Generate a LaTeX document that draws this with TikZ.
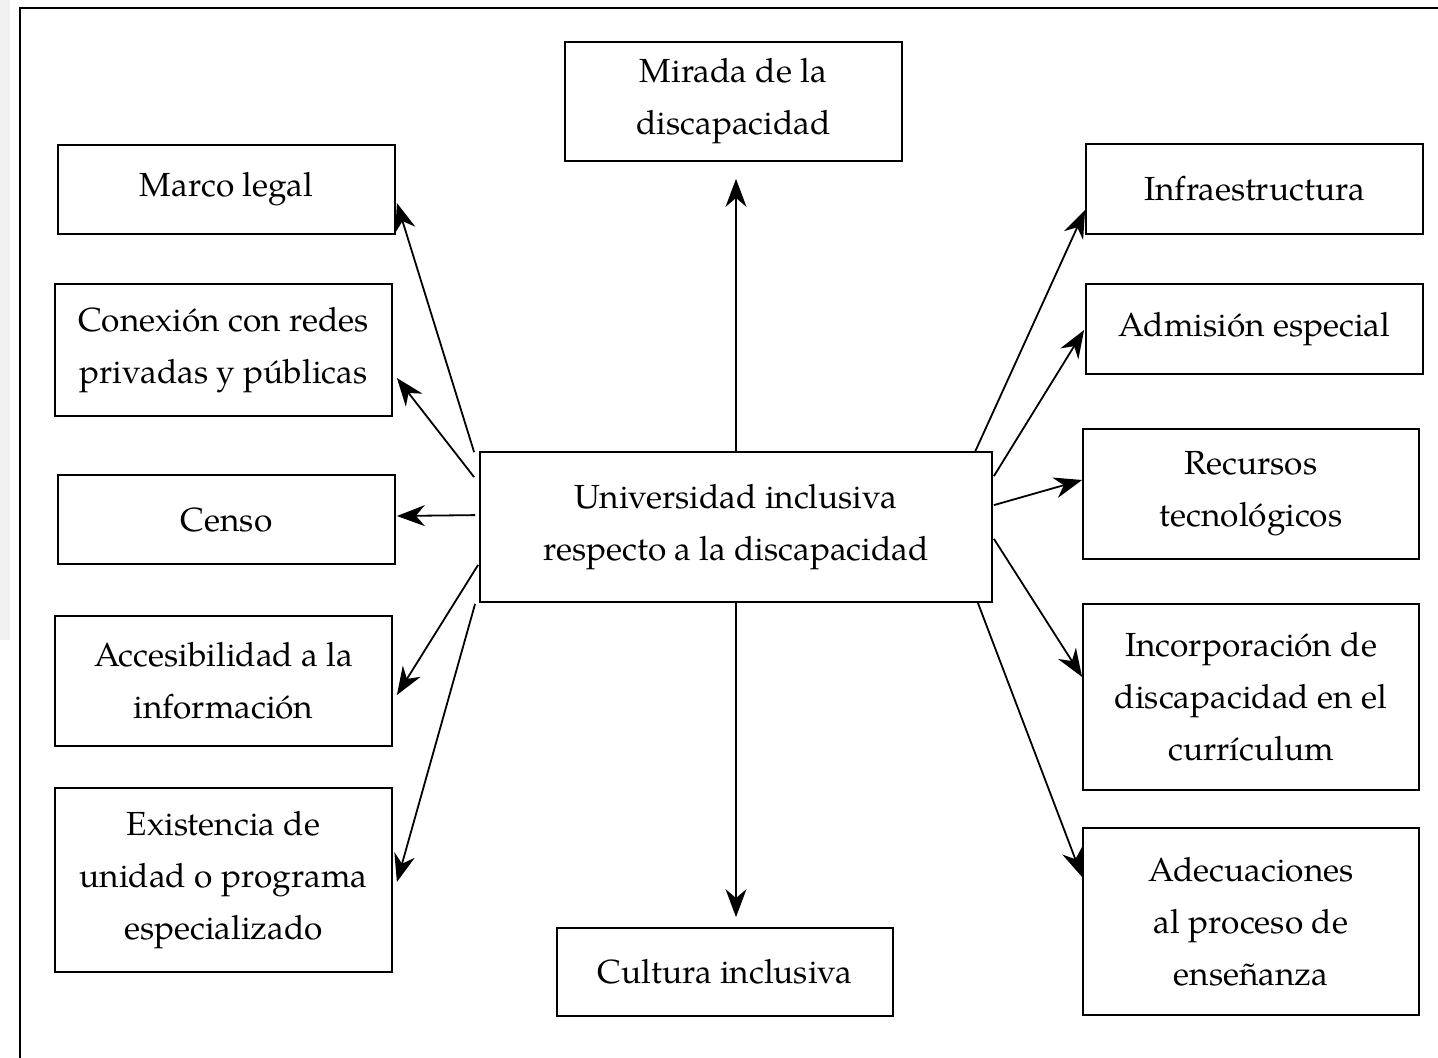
\documentclass[tikz,border=0pt]{standalone}
\usepackage{fontspec}
\setmainfont{TeX Gyre Pagella}
\usetikzlibrary{arrows.meta,calc}

\begin{document}
\begin{tikzpicture}[x=0.5pt,y=-0.5pt,
    caja/.style={draw, line width=0.9pt, align=center, inner sep=0pt,
      minimum width=168.5pt, font=\fontsize{16.7}{26}\selectfont},
    flecha/.style={-{Stealth[length=14pt,width=10.5pt,inset=4.5pt]}, line width=0.9pt}]

  \useasboundingbox (0,0) rectangle (1438,1058);
  \fill[black!6] (0,0) rectangle (10,640);
  \draw[line width=1pt] (19.5,1070) -- (19.5,8) -- (1450,8);

  % centro
  \node[caja, minimum width=256pt, minimum height=75pt] (centro) at (736,527)
    {Universidad inclusiva\\respecto a la discapacidad};

  \node[caja, minimum height=59.5pt] (mirada) at (733.5,101.5) {Mirada de la\\discapacidad};
  \node[caja, minimum width=168pt, minimum height=44pt] (cultura) at (725,972) {Cultura inclusiva};

  % izquierda
  \node[caja, minimum height=44.5pt] (marco) at (226.5,189.5) {Marco legal};
  \node[caja, minimum height=66pt] (conexion) at (223.5,350) {Conexión con redes\\privadas y públicas};
  \node[caja, minimum height=44.5pt] (censo) at (226.5,519.5) {Censo};
  \node[caja, minimum height=65pt] (acceso) at (223.5,681) {Accesibilidad a la\\información};
  \node[caja, minimum height=92pt] (unidad) at (223.5,880) {Existencia de\\unidad o programa\\especializado};

  % derecha
  \node[caja, minimum height=45pt] (infra) at (1254.5,189) {Infraestructura};
  \node[caja, minimum height=45pt] (admision) at (1254.5,329) {Admisión especial};
  \node[caja, minimum width=168pt, minimum height=65pt] (recursos) at (1251,494) {Recursos\\tecnológicos};
  \node[caja, minimum width=168pt, minimum height=93pt] (curriculo) at (1251,697) {Incorporación de\\discapacidad en el\\currículum};
  \node[caja, minimum width=168pt, minimum height=93.5pt] (ensenanza) at (1251,921.5) {Adecuaciones\\al proceso de\\enseñanza};

  % flechas
  \draw[flecha, shorten >=8.5pt] (centro.north) -- (centro.north |- mirada.south);
  \draw[flecha, shorten >=5pt] (centro.south) -- (centro.south |- cultura.north);

  \draw[flecha] ($(centro.north west)+(-5,1)$) -- ($(marco.east)+(1,13.5)$);
  \draw[flecha] ($(centro.north west)+(-5,26)$) -- ($(conexion.east)+(4,28)$);
  \draw[flecha] ($(centro.north west)+(-4,64)$) -- ($(censo.east)+(1,-3.5)$);
  \draw[flecha] ($(centro.south west)+(-1,-38)$) -- ($(acceso.east)+(4,14)$);
  \draw[flecha] ($(centro.south west)+(-4,1)$) -- ($(unidad.east)+(4,2)$);

  \draw[flecha] ($(centro.north east)+(-18,1)$) -- ($(infra.west)+(0,21)$);
  \draw[flecha] ($(centro.north east)+(1,25)$) -- ($(admision.west)+(-1,1)$);
  \draw[flecha] ($(centro.north east)+(1,54)$) -- ($(recursos.west)+(0,-14)$);
  \draw[flecha] ($(centro.south east)+(1,-64)$) -- ($(curriculo.west)+(0,-20)$);
  \draw[flecha] ($(centro.south east)+(-15,0)$) -- ($(ensenanza.west)+(0,-44.5)$);
\end{tikzpicture}
\end{document}
